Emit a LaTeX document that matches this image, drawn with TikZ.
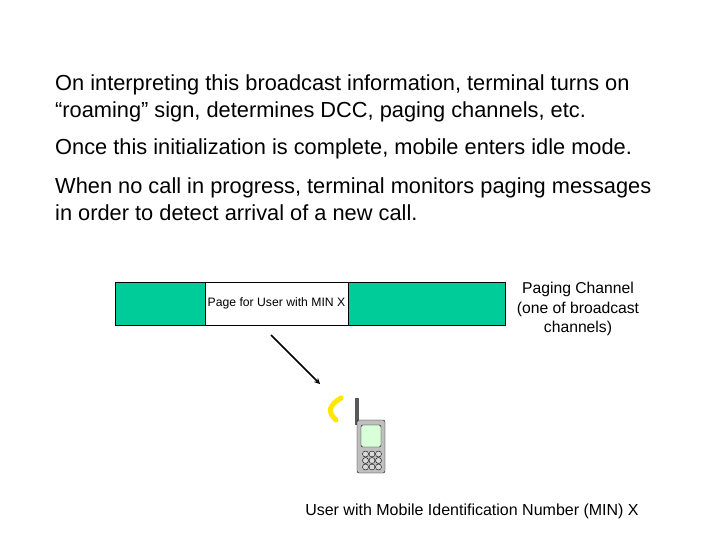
\documentclass[tikz,border=0pt]{standalone}
\usepackage{fontspec}
\setmainfont{Liberation Sans}
\begin{document}
\begin{tikzpicture}[x=1pt,y=-1pt,
  para/.style={anchor=north west,align=left,inner sep=0,font=\fontsize{21.8}{26.5}\selectfont},
  small/.style={font=\fontsize{12.2}{14}\selectfont}]
\useasboundingbox (0,0) rectangle (720,540);
\node[para] (p1) at (55,75) {On interpreting this broadcast information, terminal turns on\\``roaming'' sign, determines DCC, paging channels, etc.};
\node[para] (p2) at (55,139) {Once this initialization is complete, mobile enters idle mode.};
\node[para] (p3) at (55,178) {When no call in progress, terminal monitors paging messages\\in order to detect arrival of a new call.};
\fill[fill={rgb,255:red,0;green,204;blue,153},draw=black,line width=0.6pt] (115,282) rectangle (505,325);
\node[draw=black,fill=white,minimum width=143pt,minimum height=43pt,inner sep=0,small,line width=0.6pt] (pg) at (276.5,303.5) {Page for User with MIN X};
\node[align=center,font=\fontsize{15.7}{19.5}\selectfont] (pc) at (578,309) {Paging Channel\\(one of broadcast\\channels)};
\coordinate (a1) at (271,335);
\coordinate (a2) at (320,384);
\draw[-stealth,line width=1.6pt] (a1) -- (a2);
\draw[yellow!90!orange,line width=5pt,line cap=round] (341,398) .. controls (329,405) and (327,412) .. (336,420);
\fill[gray!70!black] (355,398) rectangle (359,425);
\fill[gray!50,draw=black,rounded corners=2pt] (357,420) rectangle (385,473);
\fill[green!15,draw=black,rounded corners=1.5pt] (361,425) rectangle (381,447);
\foreach \i in {0,1,2}\foreach \j in {0,1,2}
  \draw[fill=gray!30] (365.5+6.5*\i,454+6.5*\j) circle (3);
\node[font=\fontsize{16}{18}\selectfont] (u) at (472,511) {User with Mobile Identification Number (MIN) X};
\end{tikzpicture}
\end{document}
